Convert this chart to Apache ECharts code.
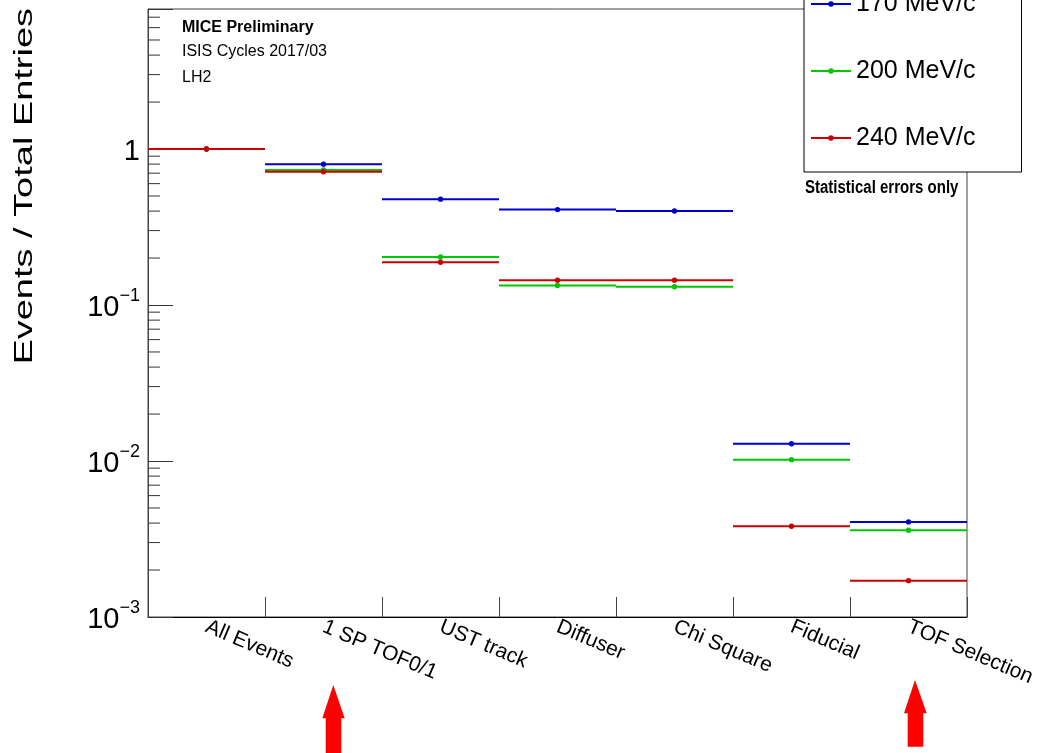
<!DOCTYPE html>
<html>
<head>
<meta charset="utf-8">
<script src="https://cdn.jsdelivr.net/npm/echarts@6/dist/echarts.min.js"></script>
<style>
  html, body { margin: 0; padding: 0; background: #fff; }
  #chart { width: 1041px; height: 753px; }
</style>
</head>
<body>
<div id="chart"></div>
<script>
// Selection stages along the x axis
const categories = ['All Events', '1 SP TOF0/1', 'UST track', 'Diffuser', 'Chi Square', 'Fiducial', 'TOF Selection'];

// Fraction of events surviving each cut, per beam momentum
const seriesNames = ['170 MeV/c', '200 MeV/c', '240 MeV/c'];
const frac170 = [1.0, 0.800, 0.477, 0.409, 0.401, 0.0129, 0.00407];
const frac200 = [1.0, 0.733, 0.203, 0.1334, 0.131, 0.0102, 0.00360];
const frac240 = [1.0, 0.715, 0.188, 0.1443, 0.1443, 0.00382, 0.00171];

// Minor tick positions on the log axis (2..9 per decade)
const minorTicks = [
  0.002, 0.003, 0.004, 0.005, 0.006, 0.007, 0.008, 0.009,
  0.02, 0.03, 0.04, 0.05, 0.06, 0.07, 0.08, 0.09,
  0.2, 0.3, 0.4, 0.5, 0.6, 0.7, 0.8, 0.9,
  2, 3, 4, 5, 6, 7
];

// Text labels
const notes = ['MICE Preliminary', 'ISIS Cycles 2017/03', 'LH2'];
const yTitle = 'Events / Total Entries';
const errNote = 'Statistical errors only';

const colors = ['#0000cc', '#00c800', '#cc0000'];
const FONT = "'Liberation Sans', Arial, sans-serif";

const chart = echarts.init(document.getElementById('chart'), null, { renderer: 'canvas' });

// Each bin drawn as a horizontal bar across the category band with a marker at its centre
function binItem(params, api) {
  const c = api.coord([api.value(0), api.value(1)]);
  const w = params.coordSys.width / categories.length;
  const color = api.visual('color');
  return {
    type: 'group',
    children: [
      { type: 'line', shape: { x1: c[0] - w / 2, y1: c[1], x2: c[0] + w / 2, y2: c[1] },
        style: { stroke: color, lineWidth: 2 } },
      { type: 'circle', shape: { cx: c[0], cy: c[1], r: 2.7 }, style: { fill: color } }
    ]
  };
}

// Short inward minor ticks on the left axis
function minorTickItem(params, api) {
  const y = api.coord([0, api.value(1)])[1];
  const x = params.coordSys.x;
  return { type: 'line', shape: { x1: x, y1: y, x2: x + 12, y2: y },
           style: { stroke: '#333', lineWidth: 1 } };
}

function makeSeries(name, values, color) {
  return {
    name: name,
    type: 'custom',
    renderItem: binItem,
    itemStyle: { color: color },
    data: values.map((v, i) => [categories[i], v]),
    clip: false,
    z: 3
  };
}

const legendIcon = 'path://M0,3H40V5H0Z M17.2,4A2.8,2.8,0,1,1,22.8,4A2.8,2.8,0,1,1,17.2,4Z';

const option = {
  backgroundColor: '#fff',
  animation: false,
  grid: { left: 148, right: 74, top: 9, bottom: 136, show: true, borderColor: '#444', borderWidth: 1, backgroundColor: 'transparent' },
  xAxis: {
    type: 'category',
    data: categories,
    boundaryGap: true,
    axisLine: { show: true, lineStyle: { color: '#000', width: 1 } },
    axisTick: { show: true, inside: true, length: 20, alignWithLabel: false, interval: 0, lineStyle: { color: '#444', width: 1 } },
    axisLabel: { interval: 0, rotate: -23, margin: 9, fontSize: 21, color: '#000', fontFamily: FONT },
    splitLine: { show: false }
  },
  yAxis: {
    type: 'log',
    logBase: 10,
    min: 0.001,
    max: 7.9,
    axisLine: { show: true, lineStyle: { color: '#444' } },
    axisTick: { show: true, inside: true, length: 25, lineStyle: { color: '#333', width: 1 } },
    splitLine: { show: false },
    minorTick: { show: false },
    axisLabel: {
      margin: 8,
      formatter: function (v) {
        const lg = Math.log10(v);
        const e = Math.round(lg);
        if (Math.abs(lg - e) > 1e-6) return '';
        if (e === 0) return '{b|1}';
        return '{b|10}{s|\u2212' + (-e) + '}';
      },
      rich: {
        b: { fontSize: 29, lineHeight: 35, color: '#000', fontFamily: FONT, verticalAlign: 'bottom' },
        s: { fontSize: 18, lineHeight: 18, color: '#000', fontFamily: FONT, verticalAlign: 'top' }
      }
    }
  },
  legend: {
    orient: 'vertical',
    left: 804,
    top: -29,
    padding: [20, 46, 21, 7],
    itemGap: 41,
    itemWidth: 40,
    itemHeight: 6,
    backgroundColor: '#fff',
    borderColor: '#000',
    borderWidth: 1,
    borderRadius: 0,
    selectedMode: false,
    textStyle: { fontSize: 25, lineHeight: 26, color: '#000', fontFamily: FONT },
    data: seriesNames.map(n => ({ name: n, icon: legendIcon }))
  },
  graphic: [
    { type: 'text', x: 25, y: 8, rotation: Math.PI / 2, scaleX: 1.46,
      style: { text: yTitle, font: '26px ' + FONT, fill: '#000', align: 'right', verticalAlign: 'middle' } },
    { type: 'text', x: 182, y: 28,
      style: { text: notes[0], font: 'bold 16px ' + FONT, fill: '#000', verticalAlign: 'middle' } },
    { type: 'text', x: 182, y: 52,
      style: { text: notes[1], font: '16px ' + FONT, fill: '#000', verticalAlign: 'middle' } },
    { type: 'text', x: 182, y: 78,
      style: { text: notes[2], font: '16px ' + FONT, fill: '#000', verticalAlign: 'middle' } },
    { type: 'text', x: 805, y: 188, scaleY: 1.2,
      style: { text: errNote, font: 'bold 15px ' + FONT, fill: '#000', verticalAlign: 'middle' } },
    // Red pointer arrows below the axis
    { type: 'polygon', shape: { points: [[333.3, 685], [344.7, 718.3], [341.3, 718.3], [341.3, 753], [325.7, 753], [325.7, 718.3], [322.3, 718.3]] },
      style: { fill: '#ff0000' } },
    { type: 'polygon', shape: { points: [[915, 680], [926.7, 713.3], [923.3, 713.3], [923.3, 746.7], [907.7, 746.7], [907.7, 713.3], [904, 713.3]] },
      style: { fill: '#ff0000' } }
  ],
  series: [
    {
      name: 'minor-ticks',
      type: 'custom',
      renderItem: minorTickItem,
      data: minorTicks.map(v => [categories[0], v]),
      silent: true,
      clip: false,
      z: 1
    },
    makeSeries(seriesNames[0], frac170, colors[0]),
    makeSeries(seriesNames[1], frac200, colors[1]),
    makeSeries(seriesNames[2], frac240, colors[2])
  ]
};

chart.setOption(option);
</script>
</body>
</html>
